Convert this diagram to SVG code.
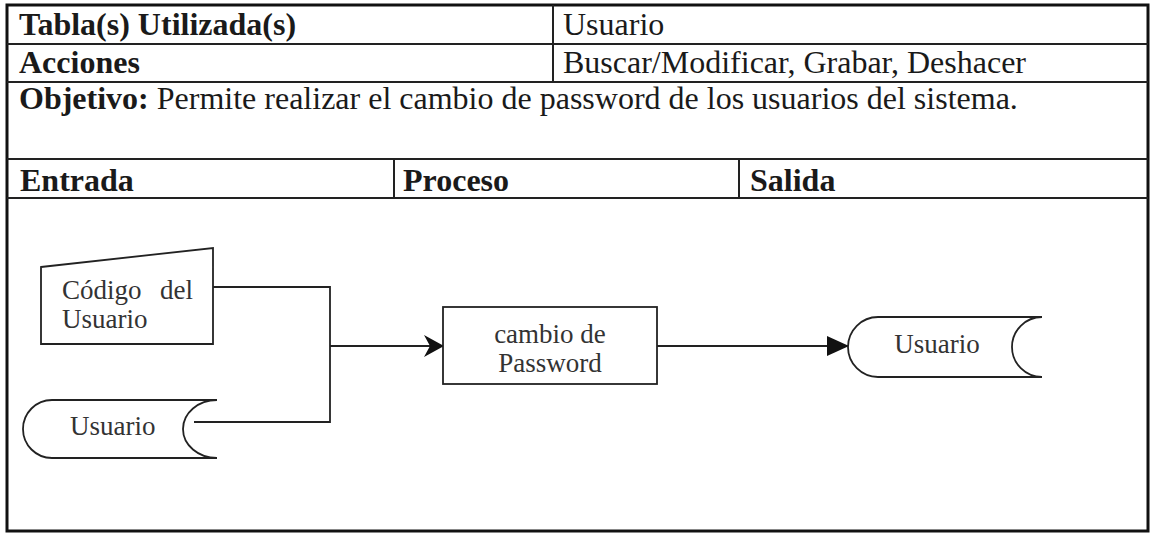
<svg xmlns="http://www.w3.org/2000/svg" width="1151" height="534" viewBox="0 0 1151 534">
<defs>
<style>
.t{font-family:"Liberation Serif","Times New Roman",serif;font-size:32px;fill:#1a1a1a}
.b{font-weight:bold}
.d{font-family:"Liberation Serif","Times New Roman",serif;font-size:27px;fill:#333}
.grid{stroke:#222;stroke-width:2;fill:none}
.shape{stroke:#222;stroke-width:1.8;fill:#fff}
.conn{stroke:#222;stroke-width:1.8;fill:none}
</style>
<marker id="stealth" viewBox="0 0 20 22" refX="19" refY="11" markerWidth="20" markerHeight="22" markerUnits="userSpaceOnUse" orient="auto">
<path d="M0 0 L20 11 L0 22 L6 11 Z" fill="#111"/>
</marker>
<marker id="tri" viewBox="0 0 22 20" refX="21" refY="10" markerWidth="22" markerHeight="20" markerUnits="userSpaceOnUse" orient="auto">
<path d="M0 0 L22 10 L0 20 Z" fill="#111"/>
</marker>
</defs>
<rect width="1151" height="534" fill="#fff"/>
<g id="table">
<rect x="7" y="5" width="1141" height="526" fill="none" stroke="#111" stroke-width="3"/>
<line class="grid" x1="7" y1="44" x2="1148" y2="44"/>
<line class="grid" x1="7" y1="82" x2="1148" y2="82"/>
<line class="grid" x1="7" y1="159" x2="1148" y2="159"/>
<line class="grid" x1="7" y1="198" x2="1148" y2="198"/>
<line class="grid" x1="553" y1="5" x2="553" y2="82"/>
<line class="grid" x1="394" y1="159" x2="394" y2="198"/>
<line class="grid" x1="739" y1="159" x2="739" y2="198"/>
<text class="t b" x="19" y="35">Tabla(s) Utilizada(s)</text>
<text class="t" x="563" y="35">Usuario</text>
<text class="t b" x="19" y="73">Acciones</text>
<text class="t" x="563" y="73">Buscar/Modificar, Grabar, Deshacer</text>
<text class="t" x="19" y="109"><tspan class="b">Objetivo:</tspan> Permite realizar el cambio de password de los usuarios del sistema.</text>
<text class="t b" x="20" y="191">Entrada</text>
<text class="t b" x="403" y="191">Proceso</text>
<text class="t b" x="750" y="191">Salida</text>
</g>
<g id="connectors">
<polyline class="conn" points="213,287 330,287 330,422 194,422"/>
<line class="conn" x1="330" y1="346" x2="443" y2="346" marker-end="url(#stealth)"/>
<line class="conn" x1="657" y1="346" x2="848" y2="346" marker-end="url(#tri)"/>
</g>
<g id="codigo">
<polygon class="shape" points="41,267 213,248 213,344 41,344"/>
<text class="d" x="62" y="299">Código</text>
<text class="d" x="193" y="299" text-anchor="end">del</text>
<text class="d" x="62" y="328">Usuario</text>
</g>
<g id="usuario-in">
<path class="shape" d="M217 400 L52 400 A29 29 0 0 0 52 458 L217 458 A34 29 0 0 1 217 400"/>
<text class="d" x="70" y="435">Usuario</text>
</g>
<g id="cambio">
<rect class="shape" x="443" y="307" width="214" height="77"/>
<text class="d" x="550" y="343" text-anchor="middle">cambio de</text>
<text class="d" x="550" y="372" text-anchor="middle">Password</text>
</g>
<g id="usuario-out">
<path class="shape" d="M1042 317 L878 317 A30 30 0 0 0 878 377 L1042 377 A30 30 0 0 1 1042 317"/>
<text class="d" x="937" y="353" text-anchor="middle">Usuario</text>
</g>
</svg>
